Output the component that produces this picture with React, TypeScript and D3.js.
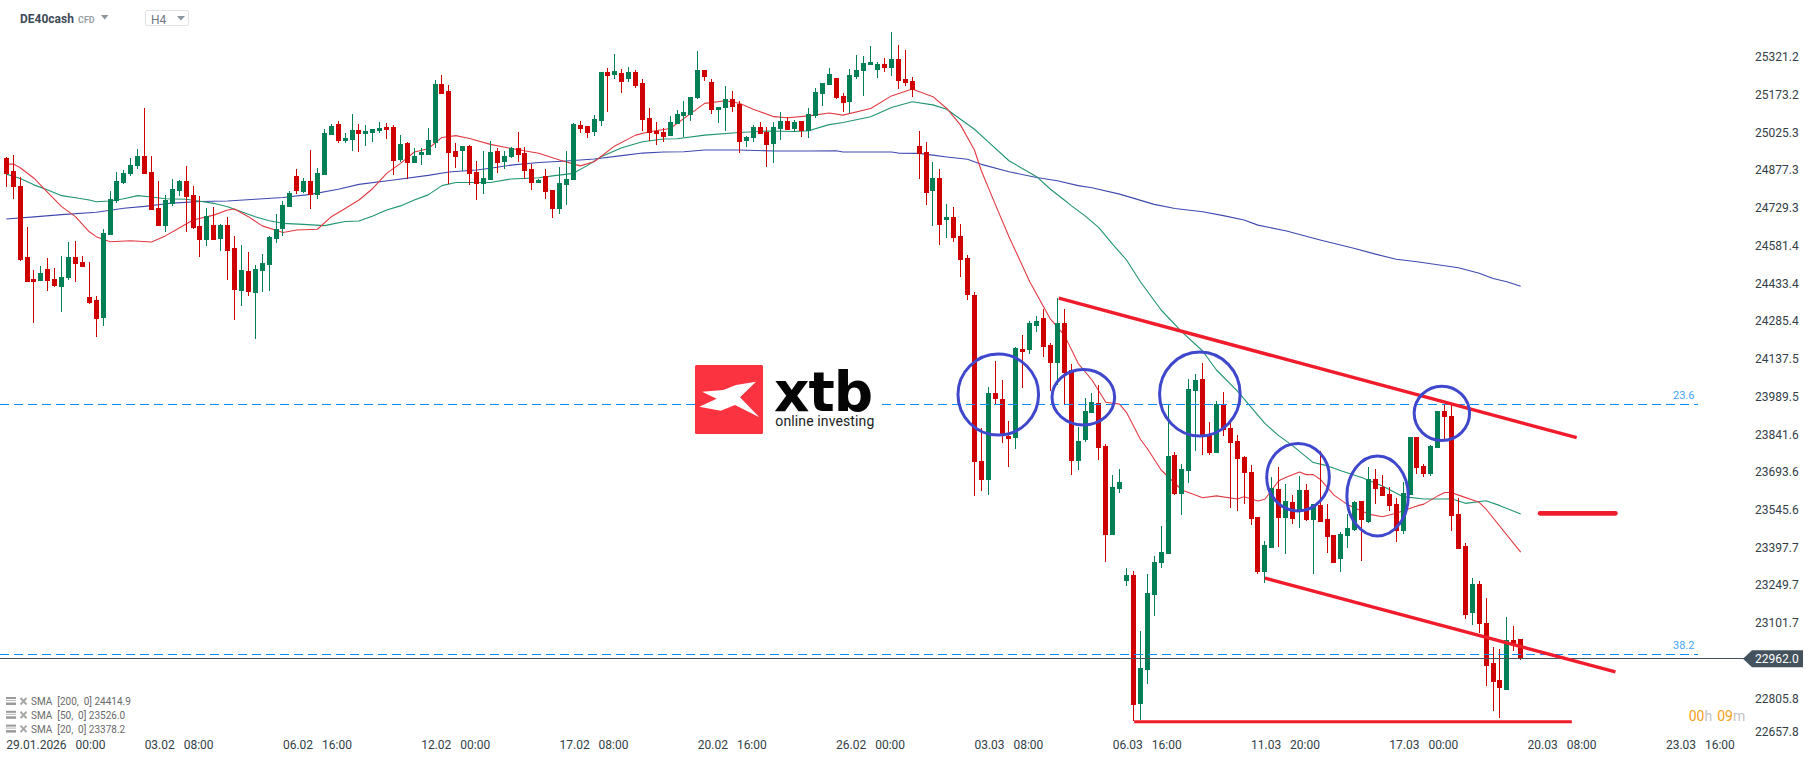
import React from 'react';
import * as d3 from 'd3';

const W = 1815;
const H = 761;

const opens = [
  24915, 24864, 24806, 24529, 24443, 24435, 24482, 24443, 24412, 24447,
  24529, 24509, 24373, 24361, 24291, 24614, 24747, 24817, 24852, 24884,
  24923, 24860, 24720, 24650, 24735, 24786, 24825, 24771, 24650, 24595,
  24653, 24599, 24653, 24564, 24396, 24474, 24388, 24474, 24498, 24599,
  24638, 24724, 24845, 24782, 24825, 24771, 24848, 25005, 25047, 24981,
  24985, 25024, 25008, 25012, 25020, 25036, 25036, 24907, 24973, 24895,
  24927, 24927, 24973, 25203, 25176, 24942, 24942, 24962, 24860, 24813,
  24829, 24942, 24899, 24919, 24954, 24934, 24872, 24817, 24845, 24790,
  24716, 24810, 24829, 25043, 25040, 25016, 25059, 25250, 25239, 25246,
  25223, 25250, 25207, 25071, 25020, 25016, 25001, 25047, 25079, 25082,
  25149, 25258, 25211, 25102, 25110, 25145, 25125, 24981, 24993, 25036,
  25016, 24969, 25028, 25059, 25028, 25059, 25020, 25079, 25164, 25199,
  25227, 25157, 25133, 25231, 25254, 25277, 25258, 25281, 25266, 25301,
  25223, 25215, 24962, 24938, 24786, 24837, 24673, 24685, 24611, 24525,
  24381, 23733, 23659, 23998, 23975, 23831, 23823, 24170, 24166, 24260,
  24291, 24185, 24115, 24271, 24088, 23733, 23815, 23920, 23959, 23792,
  23444, 23624, 23265, 23289, 22785, 22918, 23210, 23335, 23370, 23757,
  23604, 23694, 24006, 24053, 23835, 23764, 23951, 23862, 23811, 23749,
  23690, 23515, 23300, 23394, 23624, 23511, 23573, 23534, 23620, 23503,
  23562, 23507, 23444, 23351, 23441, 23464, 23577, 23495, 23663, 23632,
  23604, 23565, 23460, 23600, 23827, 23714, 23682, 23784, 23928, 23909,
  23526, 23402, 23140, 23253, 23101, 22945, 22879, 22840, 23035, 23039,
];

const highs = [
  24919, 24926, 24841, 24646, 24478, 24494, 24525, 24486, 24533, 24587,
  24591, 24533, 24509, 24377, 24638, 24786, 24860, 24868, 24915, 24950,
  25110, 24923, 24825, 24771, 24833, 24829, 24884, 24806, 24767, 24720,
  24724, 24657, 24685, 24611, 24575, 24548, 24498, 24540, 24611, 24696,
  24747, 24786, 24872, 24837, 24946, 24876, 25028, 25047, 25059, 25012,
  25086, 25047, 25043, 25028, 25055, 25051, 25043, 25005, 24977, 24954,
  24954, 25032, 25219, 25239, 25199, 24973, 24962, 24966, 24903, 24942,
  24981, 24954, 24942, 24958, 25016, 24958, 24891, 24833, 24872, 24790,
  24880, 24942, 25051, 25059, 25040, 25083, 25250, 25266, 25320, 25262,
  25270, 25258, 25223, 25110, 25055, 25032, 25079, 25102, 25137, 25153,
  25332, 25258, 25223, 25114, 25196, 25176, 25137, 25001, 25043, 25055,
  25036, 25055, 25094, 25075, 25063, 25059, 25110, 25188, 25207, 25266,
  25227, 25168, 25262, 25316, 25313, 25352, 25289, 25305, 25406, 25355,
  25336, 25231, 25020, 24977, 24899, 24872, 24735, 24724, 24657, 24537,
  24392, 23862, 24022, 24123, 24049, 23889, 24178, 24224, 24279, 24299,
  24326, 24193, 24369, 24326, 24111, 23866, 23979, 23998, 24029, 23799,
  23679, 23702, 23316, 23304, 23070, 23292, 23363, 23480, 23951, 23768,
  23721, 24053, 24072, 24115, 23885, 23967, 24002, 23881, 23835, 23753,
  23717, 23515, 23421, 23671, 23710, 23643, 23600, 23675, 23643, 23565,
  23772, 23565, 23444, 23456, 23526, 23577, 23577, 23710, 23702, 23679,
  23632, 23589, 23652, 23827, 23827, 23721, 23795, 23928, 23955, 23951,
  23589, 23413, 23277, 23265, 23199, 23008, 23000, 23125, 23090, 23039,
];

const lows = [
  24802, 24755, 24513, 24431, 24271, 24435, 24396, 24412, 24314, 24439,
  24431, 24490, 24345, 24217, 24260, 24614, 24739, 24813, 24845, 24872,
  24852, 24712, 24650, 24626, 24728, 24767, 24626, 24638, 24529, 24572,
  24595, 24552, 24439, 24283, 24338, 24377, 24209, 24392, 24396, 24583,
  24611, 24724, 24774, 24778, 24716, 24755, 24848, 25005, 24973, 24973,
  24942, 24938, 24962, 24977, 25012, 24989, 24848, 24899, 24833, 24895,
  24888, 24927, 24954, 25164, 24813, 24874, 24864, 24810, 24751, 24774,
  24829, 24856, 24872, 24915, 24899, 24833, 24790, 24817, 24755, 24681,
  24696, 24731, 24829, 25012, 24993, 25001, 25040, 25094, 25223, 25168,
  25211, 25188, 25020, 24981, 24965, 24977, 25001, 25047, 24997, 25059,
  25145, 25215, 25086, 25051, 25020, 25094, 24934, 24958, 24977, 25008,
  24880, 24895, 24985, 25024, 25016, 24997, 24993, 25071, 25118, 25199,
  25145, 25094, 25090, 25223, 25157, 25277, 25227, 25250, 25235, 25184,
  25196, 25153, 24833, 24731, 24650, 24575, 24603, 24587, 24451, 24361,
  23597, 23616, 23600, 23955, 23803, 23710, 23780, 24018, 24150, 24236,
  24139, 24006, 24030, 23955, 23679, 23698, 23807, 23920, 23737, 23339,
  23444, 23608, 23246, 22719, 22723, 22863, 23129, 23316, 23370, 23600,
  23522, 23647, 23772, 23757, 23757, 23764, 23831, 23550, 23538, 23565,
  23483, 23292, 23257, 23394, 23398, 23370, 23487, 23472, 23499, 23292,
  23495, 23374, 23335, 23300, 23394, 23460, 23343, 23491, 23565, 23597,
  23538, 23417, 23448, 23600, 23682, 23671, 23675, 23784, 23811, 23460,
  23390, 23117, 23093, 23062, 22856, 22758, 22731, 22840, 22992, 22957,
];

const closes = [
  24852, 24802, 24517, 24431, 24431, 24466, 24435, 24416, 24451, 24529,
  24501, 24490, 24349, 24287, 24622, 24755, 24825, 24856, 24888, 24923,
  24852, 24712, 24650, 24751, 24794, 24825, 24763, 24642, 24595, 24689,
  24595, 24653, 24552, 24400, 24478, 24392, 24482, 24505, 24607, 24638,
  24731, 24778, 24786, 24825, 24771, 24856, 25012, 25040, 24981, 24993,
  25024, 25008, 25020, 25028, 25032, 25024, 24903, 24969, 24895, 24923,
  24938, 24985, 25203, 25164, 24934, 24919, 24962, 24852, 24813, 24837,
  24938, 24895, 24923, 24954, 24927, 24864, 24817, 24829, 24782, 24716,
  24817, 24833, 25047, 25028, 25012, 25067, 25250, 25235, 25254, 25211,
  25250, 25196, 25063, 25012, 25008, 24997, 25055, 25086, 25094, 25153,
  25258, 25231, 25102, 25114, 25145, 25114, 24977, 24997, 25036, 25008,
  24965, 25036, 25059, 25024, 25055, 25020, 25086, 25172, 25207, 25242,
  25149, 25129, 25238, 25258, 25285, 25289, 25281, 25266, 25301, 25215,
  25207, 25180, 24930, 24778, 24837, 24653, 24685, 24603, 24517, 24381,
  23729, 23659, 23998, 23975, 23831, 23819, 24174, 24158, 24271, 24279,
  24178, 24115, 24271, 24075, 23733, 23811, 23928, 23963, 23784, 23444,
  23632, 23651, 23289, 22781, 22926, 23218, 23339, 23378, 23753, 23604,
  23702, 24014, 24049, 23831, 23764, 23955, 23854, 23803, 23741, 23686,
  23507, 23300, 23405, 23628, 23511, 23577, 23507, 23620, 23503, 23565,
  23495, 23437, 23335, 23448, 23472, 23573, 23503, 23663, 23624, 23597,
  23558, 23460, 23608, 23827, 23706, 23682, 23792, 23928, 23905, 23519,
  23390, 23132, 23253, 23097, 22934, 22871, 22848, 23035, 23019, 22962,
];

// moving averages, read at the bars where the line bends
const sma20Bars = [
  0, 1, 2, 4, 6, 8, 10, 12, 13, 15, 18, 21, 23, 25, 27, 30, 32, 33, 35, 37,
  40, 42, 45, 47, 49, 51, 53, 55, 57, 59, 61, 63, 65, 67, 70, 73, 77, 80, 83, 85,
  88, 91, 93, 96, 99, 101, 104, 106, 108, 111, 113, 116, 119, 121, 125, 128, 131, 134, 136, 138,
  140, 141, 143, 145, 148, 150, 151, 153, 155, 157, 159, 161, 162, 164, 165, 167, 170, 173, 175, 178,
  179, 181, 182, 184, 185, 187, 188, 189, 190, 192, 194, 197, 199, 201, 204, 205, 207, 208, 209, 210,
  213, 214, 219,
];
const sma20Values = [
  24891, 24891, 24877, 24836, 24780, 24725, 24686, 24627, 24608, 24588, 24592, 24587, 24611, 24642, 24673, 24692, 24712, 24716, 24686, 24650,
  24624, 24634, 24637, 24686, 24718, 24751, 24796, 24855, 24894, 24938, 24951, 24995, 25002, 24991, 24968, 24952, 24933, 24907, 24884, 24900,
  24962, 25004, 25017, 25030, 25089, 25128, 25138, 25128, 25105, 25076, 25072, 25079, 25090, 25082, 25108, 25157, 25184, 25154, 25108, 25043,
  24946, 24865, 24735, 24608, 24432, 24335, 24286, 24224, 24114, 24049, 23962, 23955, 23922, 23818, 23782, 23698, 23620, 23590, 23597, 23585,
  23594, 23577, 23584, 23656, 23669, 23690, 23680, 23680, 23662, 23600, 23562, 23526, 23516, 23529, 23558, 23565, 23597, 23610, 23610, 23600,
  23572, 23545, 23378,
];

const sma50Bars = [
  0, 2, 4, 6, 8, 10, 12, 13, 15, 17, 19, 21, 23, 26, 28, 30, 32, 34, 36, 38,
  40, 43, 46, 49, 51, 53, 55, 57, 59, 61, 63, 65, 70, 73, 77, 79, 82, 84, 86, 89,
  92, 95, 97, 101, 106, 110, 114, 116, 119, 121, 125, 128, 131, 134, 136, 140, 142, 145, 149, 151,
  153, 154, 156, 158, 160, 162, 164, 167, 170, 173, 175, 178, 182, 184, 186, 189, 191, 193, 196, 199,
  202, 205, 208, 209, 211, 214, 216, 219,
];
const sma50Values = [
  24852, 24835, 24810, 24790, 24768, 24760, 24751, 24744, 24747, 24756, 24768, 24763, 24756, 24754, 24746, 24738, 24725, 24705, 24686, 24670,
  24660, 24656, 24651, 24667, 24669, 24689, 24712, 24728, 24751, 24771, 24807, 24819, 24819, 24833, 24838, 24845, 24855, 24885, 24920, 24955,
  24978, 24989, 24990, 25004, 25014, 25020, 25018, 25021, 25045, 25053, 25076, 25112, 25134, 25122, 25105, 25027, 24978, 24904, 24842, 24793,
  24751, 24729, 24689, 24643, 24578, 24517, 24432, 24322, 24237, 24162, 24088, 24007, 23880, 23832, 23793, 23727, 23715, 23695, 23669, 23636,
  23594, 23585, 23585, 23586, 23568, 23578, 23559, 23526,
];

const sma200Bars = [
  0, 4, 8, 13, 17, 20, 24, 28, 32, 36, 40, 44, 48, 51, 56, 61, 64, 68, 70, 73,
  77, 81, 85, 89, 92, 95, 98, 101, 106, 111, 116, 120, 121, 128, 129, 132, 134, 136, 139, 141,
  145, 149, 152, 155, 157, 161, 166, 169, 173, 176, 179, 181, 185, 190, 195, 198, 201, 204, 210, 213,
  215, 217, 219,
];
const sma200Values = [
  24677, 24685, 24694, 24703, 24719, 24726, 24739, 24745, 24747, 24754, 24761, 24773, 24793, 24812, 24829, 24847, 24860, 24868, 24875, 24887,
  24897, 24903, 24911, 24924, 24934, 24938, 24939, 24946, 24946, 24942, 24942, 24943, 24938, 24938, 24934, 24933, 24926, 24919, 24910, 24890,
  24861, 24839, 24826, 24807, 24799, 24774, 24734, 24718, 24705, 24690, 24673, 24653, 24631, 24595, 24562, 24540, 24520, 24510, 24487, 24465,
  24445, 24432, 24415,
];

const priceTicks = [
  25321.2, 25173.2, 25025.3, 24877.3, 24729.3, 24581.4, 24433.4, 24285.4, 24137.5,
  23989.5, 23841.6, 23693.6, 23545.6, 23397.7, 23249.7, 23101.7, 22805.8, 22657.8,
];

// a label every 20 bars, the last two fall in the empty space on the right
const timeLabels = [
  ['29.01.2026', '00:00'], ['03.02', '08:00'], ['06.02', '16:00'], ['12.02', '00:00'], ['17.02', '08:00'],
  ['20.02', '16:00'], ['26.02', '00:00'], ['03.03', '08:00'], ['06.03', '16:00'], ['11.03', '20:00'],
  ['17.03', '00:00'], ['20.03', '08:00'], ['23.03', '16:00'],
];

const legendRows = ['SMA  [200,  0] 24414.9', 'SMA  [50,  0] 23526.0', 'SMA  [20,  0] 23378.2'];

const fibLevels = [23954, 22978];
const fibNames = ['23.6', '38.2'];
const lastPrice = 22962;

// hand drawn annotations: [bar, price, bar, price]
const trendLines = [
  [152.2, 24368, 227.1, 23824],
  [182, 23276, 232.7, 22911],
];
const floorLine = [163.1, 226.4, 22716];
const targetMark = [221.8, 232.7, 23529];
// circles: bar, price, x radius, y radius
const circles = [
  [143.45, 23992, 40.3, 40.5],
  [155.75, 23982, 31.3, 27.7],
  [172.6, 23994, 40.3, 42],
  [186.8, 23670, 31.3, 33.7],
  [198.3, 23597, 30.7, 40],
  [207.6, 23919, 27.7, 27.2],
];

const UP = '#037f55';
const DOWN = '#cf0000';
const ANNOT = '#f01c2c';
const RING = '#3f48cc';
const DARK = '#44525e';
const FIB = '#0a8cf5';

const x = d3.scaleLinear().domain([0, 219]).range([6.33, 1520.7]);
const y = d3.scaleLinear().domain([25531, 22000]).range([0, 3531 / 3.9]);
// axis labels sit on a slightly different grid than the bars
const tickY = d3.scaleLinear().domain([25321.2, 22805.8]).range([57, 698.3]);

const smaPath = (bars: number[], values: number[]) =>
  d3.line<number>()
    .x((b) => x(b))
    .y((_, i) => y(values[i]))(bars) || '';

const font = 'Roboto, sans-serif';

const App: React.FC = () => {
  return (
    <svg
      width={W}
      height={H}
      viewBox={`0 0 ${W} ${H}`}
      style={{ position: 'absolute', left: 0, top: 0, display: 'block', background: '#fff' }}
      fontFamily={font}
    >
      {/* header */}
      <text x={20} y={23} fontSize={12} fontWeight={700} fill="#3d4a57">DE40cash</text>
      <text x={78} y={22.5} fontSize={9} fontWeight={700} fill="#98a2ab">CFD</text>
      <path d={d3.line()([[101, 15], [108.5, 15], [104.7, 19.5]]) + 'Z'} fill="#8b959e" />
      <rect x={145.5} y={10.5} width={43} height={15} rx={1.5} fill="#fff" stroke="#dfe3e6" />
      <text x={151} y={24} fontSize={12} fill="#6d7882">H4</text>
      <path d={d3.line()([[177, 16], [185, 16], [181, 20.5]]) + 'Z'} fill="#8b959e" />

      {/* moving averages */}
      <g fill="none" strokeWidth={1.1} strokeLinejoin="round">
        <path d={smaPath(sma200Bars, sma200Values)} stroke="#3f4ab0" />
        <path d={smaPath(sma50Bars, sma50Values)} stroke="#1f9470" />
        <path d={smaPath(sma20Bars, sma20Values)} stroke="#e23a42" />
      </g>

      {/* candles */}
      <g shapeRendering="crispEdges">
        {opens.map((o, i) => {
          const c = closes[i];
          const left = Math.round(x(i) - 2.5);
          const top = y(Math.max(o, c));
          const bottom = y(Math.min(o, c));
          const col = c >= o ? UP : DOWN;
          return (
            <g key={i} fill={col}>
              <rect x={left + 2} y={y(highs[i])} width={1} height={y(lows[i]) - y(highs[i])} />
              <rect x={left} y={top} width={5} height={Math.max(bottom - top, 1)} />
            </g>
          );
        })}
      </g>

      {/* fib levels */}
      {fibLevels.map((lvl, i) => (
        <g key={fibNames[i]}>
          <line
            x1={0}
            x2={1698}
            y1={y(lvl)}
            y2={y(lvl)}
            stroke={FIB}
            strokeWidth={1}
            strokeDasharray="9 5"
            shapeRendering="crispEdges"
          />
          <text x={1673} y={y(lvl) - 5.5} fontSize={11} fill="#45a5f5">{fibNames[i]}</text>
        </g>
      ))}

      {/* last price */}
      <line
        x1={0}
        x2={1745}
        y1={y(lastPrice)}
        y2={y(lastPrice)}
        stroke={DARK}
        strokeWidth={1}
        shapeRendering="crispEdges"
      />

      {/* annotations */}
      {trendLines.map((t, i) => (
        <line key={i} x1={x(t[0])} y1={y(t[1])} x2={x(t[2])} y2={y(t[3])} stroke={ANNOT} strokeWidth={3.4} />
      ))}
      <line x1={x(floorLine[0])} x2={x(floorLine[1])} y1={y(floorLine[2])} y2={y(floorLine[2])} stroke={ANNOT} strokeWidth={3} />
      <line x1={x(targetMark[0])} x2={x(targetMark[1])} y1={y(targetMark[2])} y2={y(targetMark[2])} stroke={ANNOT} strokeWidth={4.6} strokeLinecap="round" />
      {circles.map((c, i) => (
        <ellipse key={i} cx={x(c[0])} cy={y(c[1])} rx={c[2]} ry={c[3]} fill="none" stroke={RING} strokeWidth={3} />
      ))}

      {/* logo */}
      <rect x={762} y={365} width={120} height={69} fill="#fff" />
      <rect x={695} y={365} width={68} height={69} rx={1.5} fill="#fb3340" />
      <path
        d="M756 381.7 L736 385 L723.3 390 L702 391.7 L716.7 398.7 L699.3 406.7 L720.7 410.7 L735 405 L759.3 417.3 L740 397.3 Z"
        fill="#fff"
      />
      <text x={774} y={410.7} fontSize={55} fontWeight={700} fontFamily="'DejaVu Sans', sans-serif" letterSpacing={-1} fill="#050505">xtb</text>
      <text x={775.3} y={426} fontSize={14} fill="#1c1c1c" textLength={99} lengthAdjust="spacing">online investing</text>

      {/* price axis */}
      <g fontSize={12} fill="#333e48">
        {priceTicks.map((p) => (
          <text key={p} x={1755} y={Math.min(tickY(p), 731.7)} dy="0.36em">{p.toFixed(1)}</text>
        ))}
      </g>
      <path
        d={d3.line()([[1743, y(lastPrice)], [1752, y(lastPrice) - 8.5], [1803, y(lastPrice) - 8.5], [1803, y(lastPrice) + 8.5], [1752, y(lastPrice) + 8.5]]) + 'Z'}
        fill={DARK}
      />
      <text x={1755} y={y(lastPrice)} dy="0.36em" fontSize={12} fill="#fff">{lastPrice.toFixed(1)}</text>

      {/* time axis */}
      <g fontSize={12} fill="#333e48">
        {timeLabels.map((t, i) => (
          <text key={t[0]} x={x(i * 20)} y={749}>{`${t[0]}\u00a0\u00a0\u00a0${t[1]}`}</text>
        ))}
      </g>

      {/* candle timer */}
      <text x={1688.7} y={721} fontSize={14}>
        <tspan fill="#f5a020">00</tspan>
        <tspan fill="#c4c4c4">h</tspan>
        <tspan fill="#f5a020" dx={5}>09</tspan>
        <tspan fill="#c4c4c4">m</tspan>
      </text>

      {/* legend */}
      {legendRows.map((row, i) => {
        const cy = 701.5 + i * 13.8;
        return (
          <g key={row}>
            <rect x={6} y={cy - 4.5} width={10} height={2} fill="#9a9a9a" />
            <rect x={6} y={cy - 1.5} width={10} height={1} fill="#b5b5b5" />
            <rect x={6} y={cy + 1} width={10} height={2.5} fill="#9a9a9a" />
            <path
              d={`M20.5 ${cy - 3.5} L26.5 ${cy + 3} M26.5 ${cy - 3.5} L20.5 ${cy + 3}`}
              stroke="#a8a8a8"
              strokeWidth={2}
            />
            <text x={31} y={cy} dy="0.36em" fontSize={10} fill="#6a6a6a" xmlSpace="preserve">{row}</text>
          </g>
        );
      })}
    </svg>
  );
};

export default App;
